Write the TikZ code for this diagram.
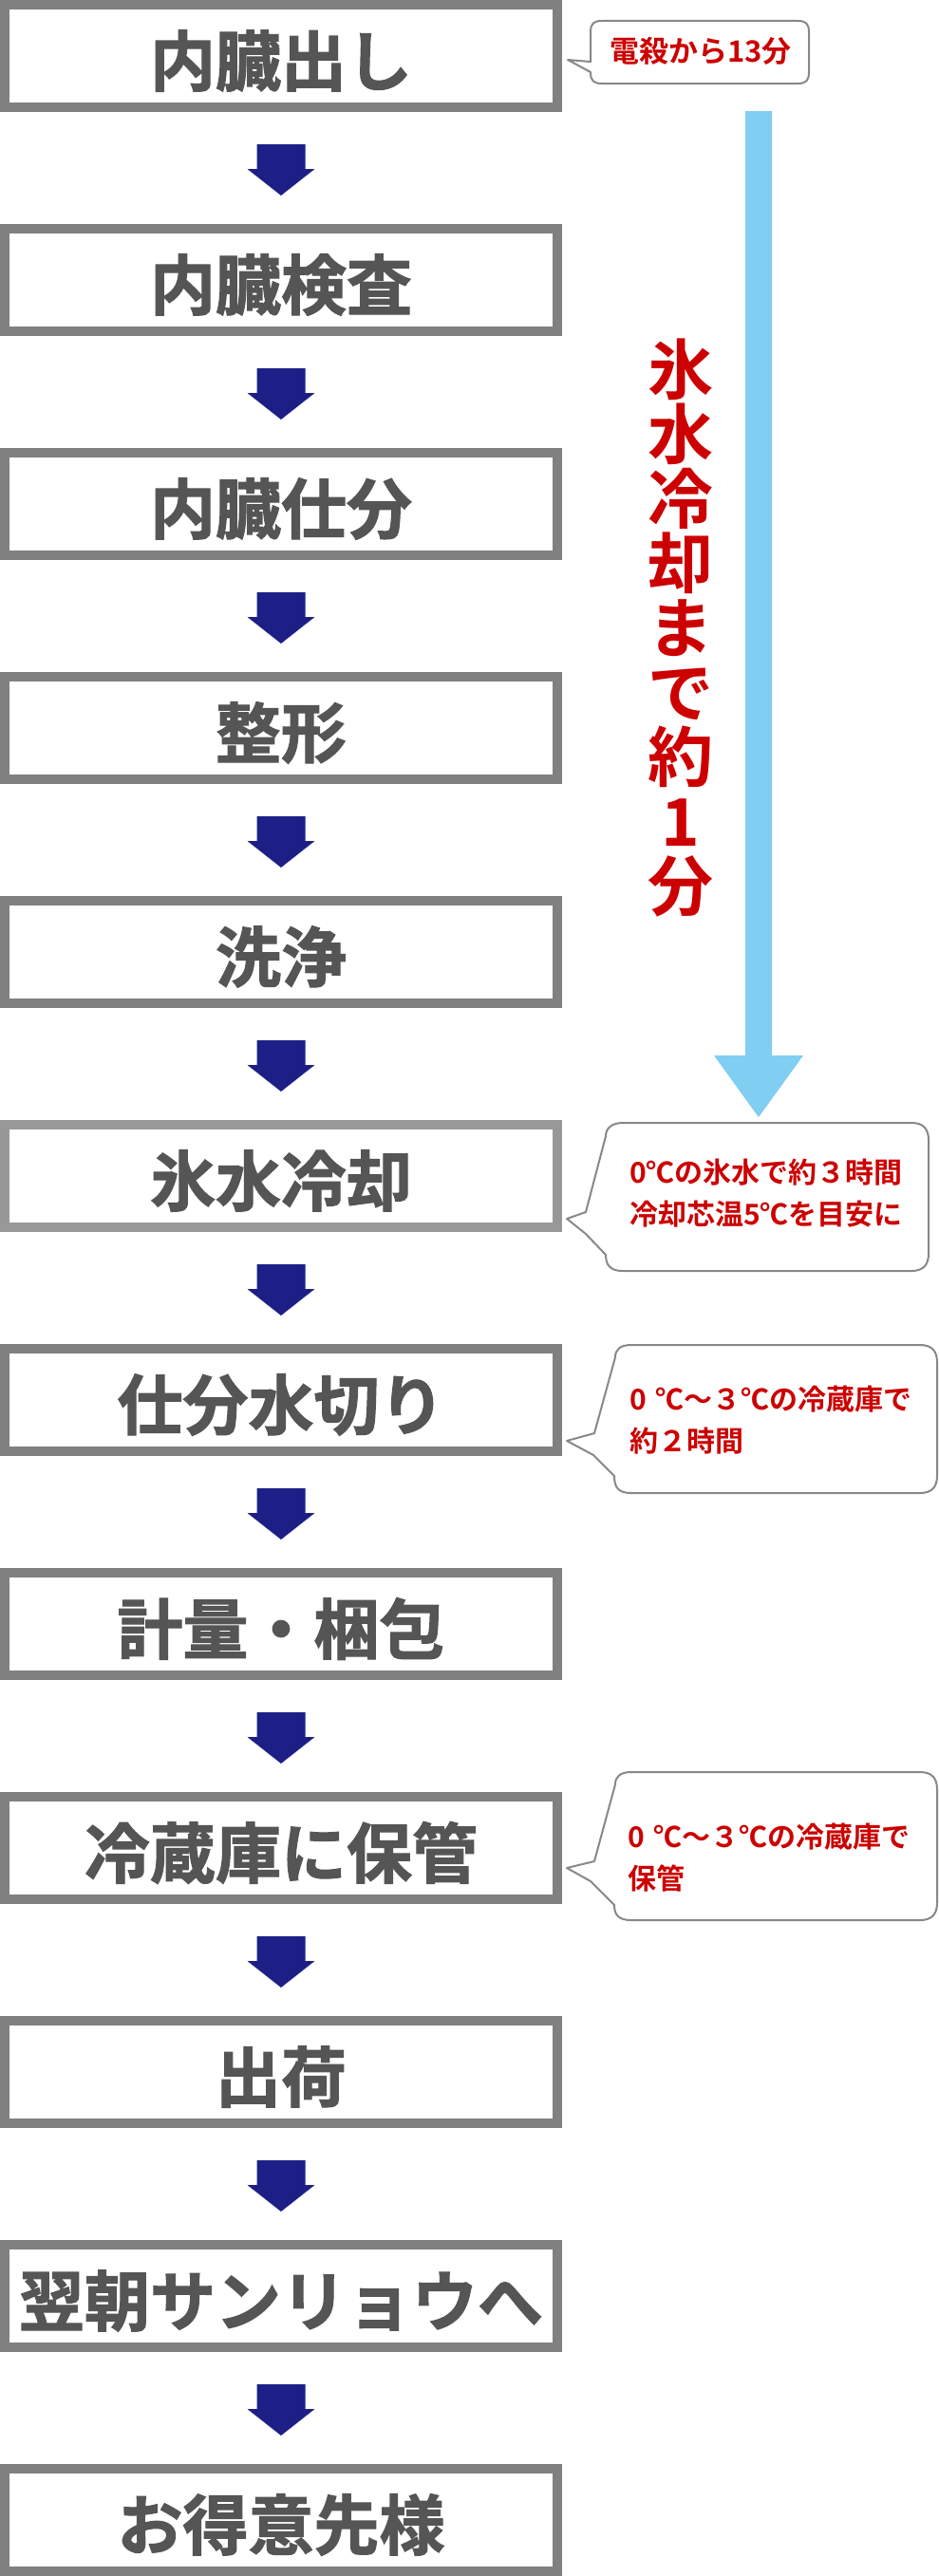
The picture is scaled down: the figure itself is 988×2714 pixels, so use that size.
\documentclass[tikz,border=0pt]{standalone}
\usepackage{fontspec}
\newfontfamily\jp{Noto Sans CJK JP}[UprightFont=* Bold]
\newfontfamily\jpheavy{Noto Sans CJK JP}[UprightFont=* Bold, FakeBold=1.6]
\usetikzlibrary{calc}
\definecolor{boxgray}{RGB}{128,128,128}
\definecolor{boxgraylight}{RGB}{152,152,152}
\definecolor{textgray}{RGB}{85,85,85}
\definecolor{navyblue}{RGB}{30,31,134}
\definecolor{skyblue}{RGB}{128,206,242}
\definecolor{notered}{RGB}{204,0,0}
\definecolor{callgray}{RGB}{136,136,136}
\tikzset{
  stepbox/.style={draw=boxgray, line width=10pt, fill=white, minimum width=582pt, minimum height=108pt, inner sep=0pt},
  box6/.style={draw=boxgraylight},
  boxtext/.style={text=textgray, inner sep=0pt, font=\jpheavy\fontsize{69}{80}\selectfont},
  flowarrow/.pic={\fill[navyblue] (-25.5,-25) -- (25.5,-25) -- (25.5,1) -- (35.5,1) -- (0,29) -- (-35.5,1) -- (-25.5,1) -- cycle;},
  calloutline/.style={draw=callgray, line width=2pt, fill=white, line join=round},
  callouttext/.style={text=notered, font=\jp\fontsize{30}{44}\selectfont, align=left, inner sep=0pt, anchor=west},
}
\begin{document}
\begin{tikzpicture}[x=1pt, y=-1pt]
\useasboundingbox (0,0) rectangle (988,2714);
\fill[white] (0,0) rectangle (988,2714);
% process boxes
\foreach \t [count=\i] in {内臓出し,内臓検査,内臓仕分,整形,洗浄,氷水冷却,仕分水切り,計量・梱包,冷蔵庫に保管,出荷,翌朝サンリョウへ,お得意先様}{
  \node[stepbox, box\i/.try] (b\i) at (296, {236*(\i-1)+59}) {};
  \node[boxtext] (l\i) at (296, {236*(\i-1)+64}) {\t};
}
% flow arrows
\foreach \i [evaluate=\i as \j using {int(\i+1)}] in {1,...,11}{
  \path ($(b\i.south)!0.5!(b\j.north)$) pic {flowarrow};
}
% blue arrow
\coordinate (bt) at (799,117);
\coordinate (bb) at (799,1177);
\fill[skyblue] ($(bt)+(-14,0)$) -- ($(bt)+(14,0)$) -- ($(bb)+(14,-65)$) -- ($(bb)+(47,-65)$) -- (bb) -- ($(bb)+(-47,-65)$) -- ($(bb)+(-14,-65)$) -- cycle;
\node[text=notered, font=\jp\fontsize{69}{68}\selectfont, align=center, inner sep=0pt] (vt) at (717,661) {氷\\水\\冷\\却\\ま\\で\\約\\1\\分};
% callout 1
\coordinate (t1) at ($(b1.east)+(6,4)$);
\draw[calloutline] (622,65) -- (t1) -- (622,76) .. controls (622,85) and (625,88) .. (634,88) -- (840,88) .. controls (849,88) and (852,85) .. (852,76) -- (852,34) .. controls (852,25) and (849,22) .. (840,22) -- (634,22) .. controls (625,22) and (622,25) .. (622,34) -- cycle;
\node[text=notered, font=\jp\fontsize{31}{36}\selectfont, inner sep=0pt] (n1) at (738,54) {電殺から13分};
% callout 2
\coordinate (t2) at ($(b6.south east)+(5,-14)$);
\draw[calloutline] (638,1197) -- (617,1277) -- (t2) -- (617,1300) -- (638,1322) .. controls (638,1334) and (644,1339) .. (656,1339) -- (960,1339) .. controls (972,1339) and (978,1333) .. (978,1321) -- (978,1201) .. controls (978,1189) and (972,1183) .. (960,1183) -- (656,1183) .. controls (644,1183) and (638,1189) .. (638,1197) -- cycle;
\node[callouttext] (n2) at (663,1257) {0℃の氷水で約３時間\\冷却芯温5℃を目安に};
% callout 3
\coordinate (t3) at ($(b7.south east)+(5,-16)$);
\draw[calloutline] (648,1430) -- (626,1510) -- (t3) -- (625,1533) -- (647,1555) .. controls (647,1568) and (652,1573) .. (665,1573) -- (969,1573) .. controls (981,1573) and (987,1567) .. (987,1555) -- (987,1435) .. controls (987,1423) and (981,1417) .. (969,1417) -- (665,1417) .. controls (653,1417) and (648,1422) .. (648,1430) -- cycle;
\node[callouttext] (n3) at (663,1496) {0\kern10pt℃〜３℃の冷蔵庫で\\約２時間};
% callout 4
\coordinate (t4) at ($(b9.south east)+(5,-38)$);
\draw[calloutline] (648,1880) -- (626,1961) -- (t4) -- (622,1982) -- (647,2007) .. controls (647,2018) and (652,2023) .. (665,2023) -- (969,2023) .. controls (981,2023) and (987,2017) .. (987,2005) -- (987,1885) .. controls (987,1873) and (981,1867) .. (969,1867) -- (665,1867) .. controls (653,1867) and (648,1872) .. (648,1880) -- cycle;
\node[callouttext] (n4) at (661,1957) {0\kern10pt℃〜３℃の冷蔵庫で\\保管};
\end{tikzpicture}
\end{document}
